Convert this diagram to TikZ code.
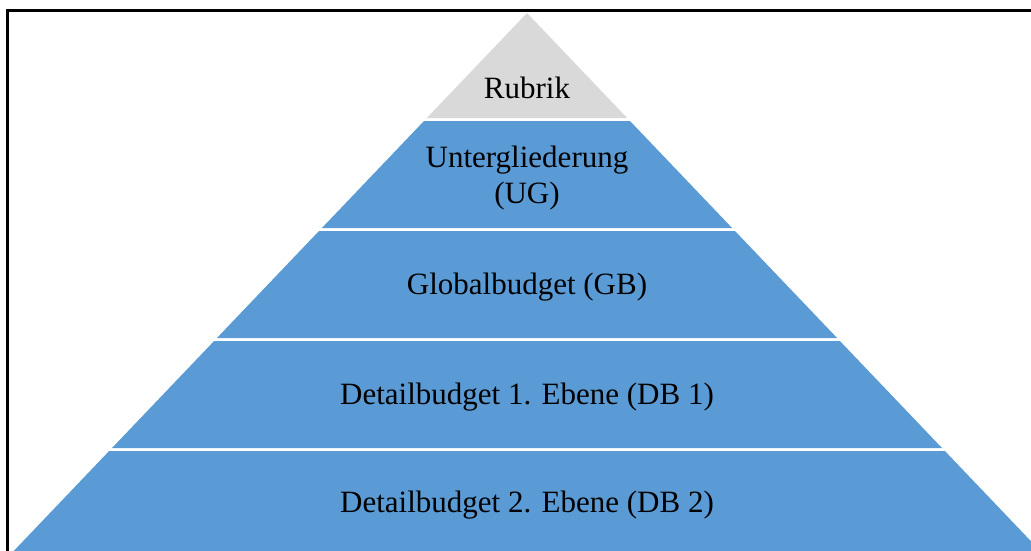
\documentclass[tikz,border=0pt]{standalone}
\usepackage{fontspec}
\setmainfont{Liberation Serif}
\usepackage{xcolor}
\definecolor{Band}{HTML}{5B9BD5}
\definecolor{Top}{HTML}{D9D9D9}
\definecolor{Ink}{HTML}{000000}

\tikzset{
  level/.style={fill=Band,draw=none},
  label/.style={font=\fontsize{31}{36}\selectfont,text=Ink,align=center,inner sep=0pt}
}

\begin{document}
\begin{tikzpicture}[x=1pt,y=-1pt]
\useasboundingbox (0,0) rectangle (1031,551);
\clip (0,0) rectangle (1031,551);
% outer frame
\draw[Ink,line width=2.2pt] (7.5,560) -- (7.5,10.5) -- (1040,10.5);
% pyramid levels, top to bottom
\fill[Top] (527,13) -- (627.2,118) -- (426.8,118) -- cycle;
\fill[level] (424.0,121) -- (630.0,121) -- (732.1,228) -- (321.9,228) -- cycle;
\fill[level] (319.0,231) -- (735.0,231) -- (837.1,338) -- (216.9,338) -- cycle;
\fill[level] (214.1,341) -- (839.9,341) -- (942.0,448) -- (112.0,448) -- cycle;
\fill[level] (109.1,451) -- (944.9,451) -- (1040.3,551) -- (13.7,551) -- cycle;
% labels
\node[label] (rubrik) at (527,88) {Rubrik};
\node[label] (ug) at (527,178) {Untergliederung\\(UG)};
\node[label] (gb) at (527,287) {Globalbudget (GB)};
\node[label] (db1) at (527,397) {Detailbudget 1. Ebene (DB 1)};
\node[label] (db2) at (527,505) {Detailbudget 2. Ebene (DB 2)};
\end{tikzpicture}
\end{document}
